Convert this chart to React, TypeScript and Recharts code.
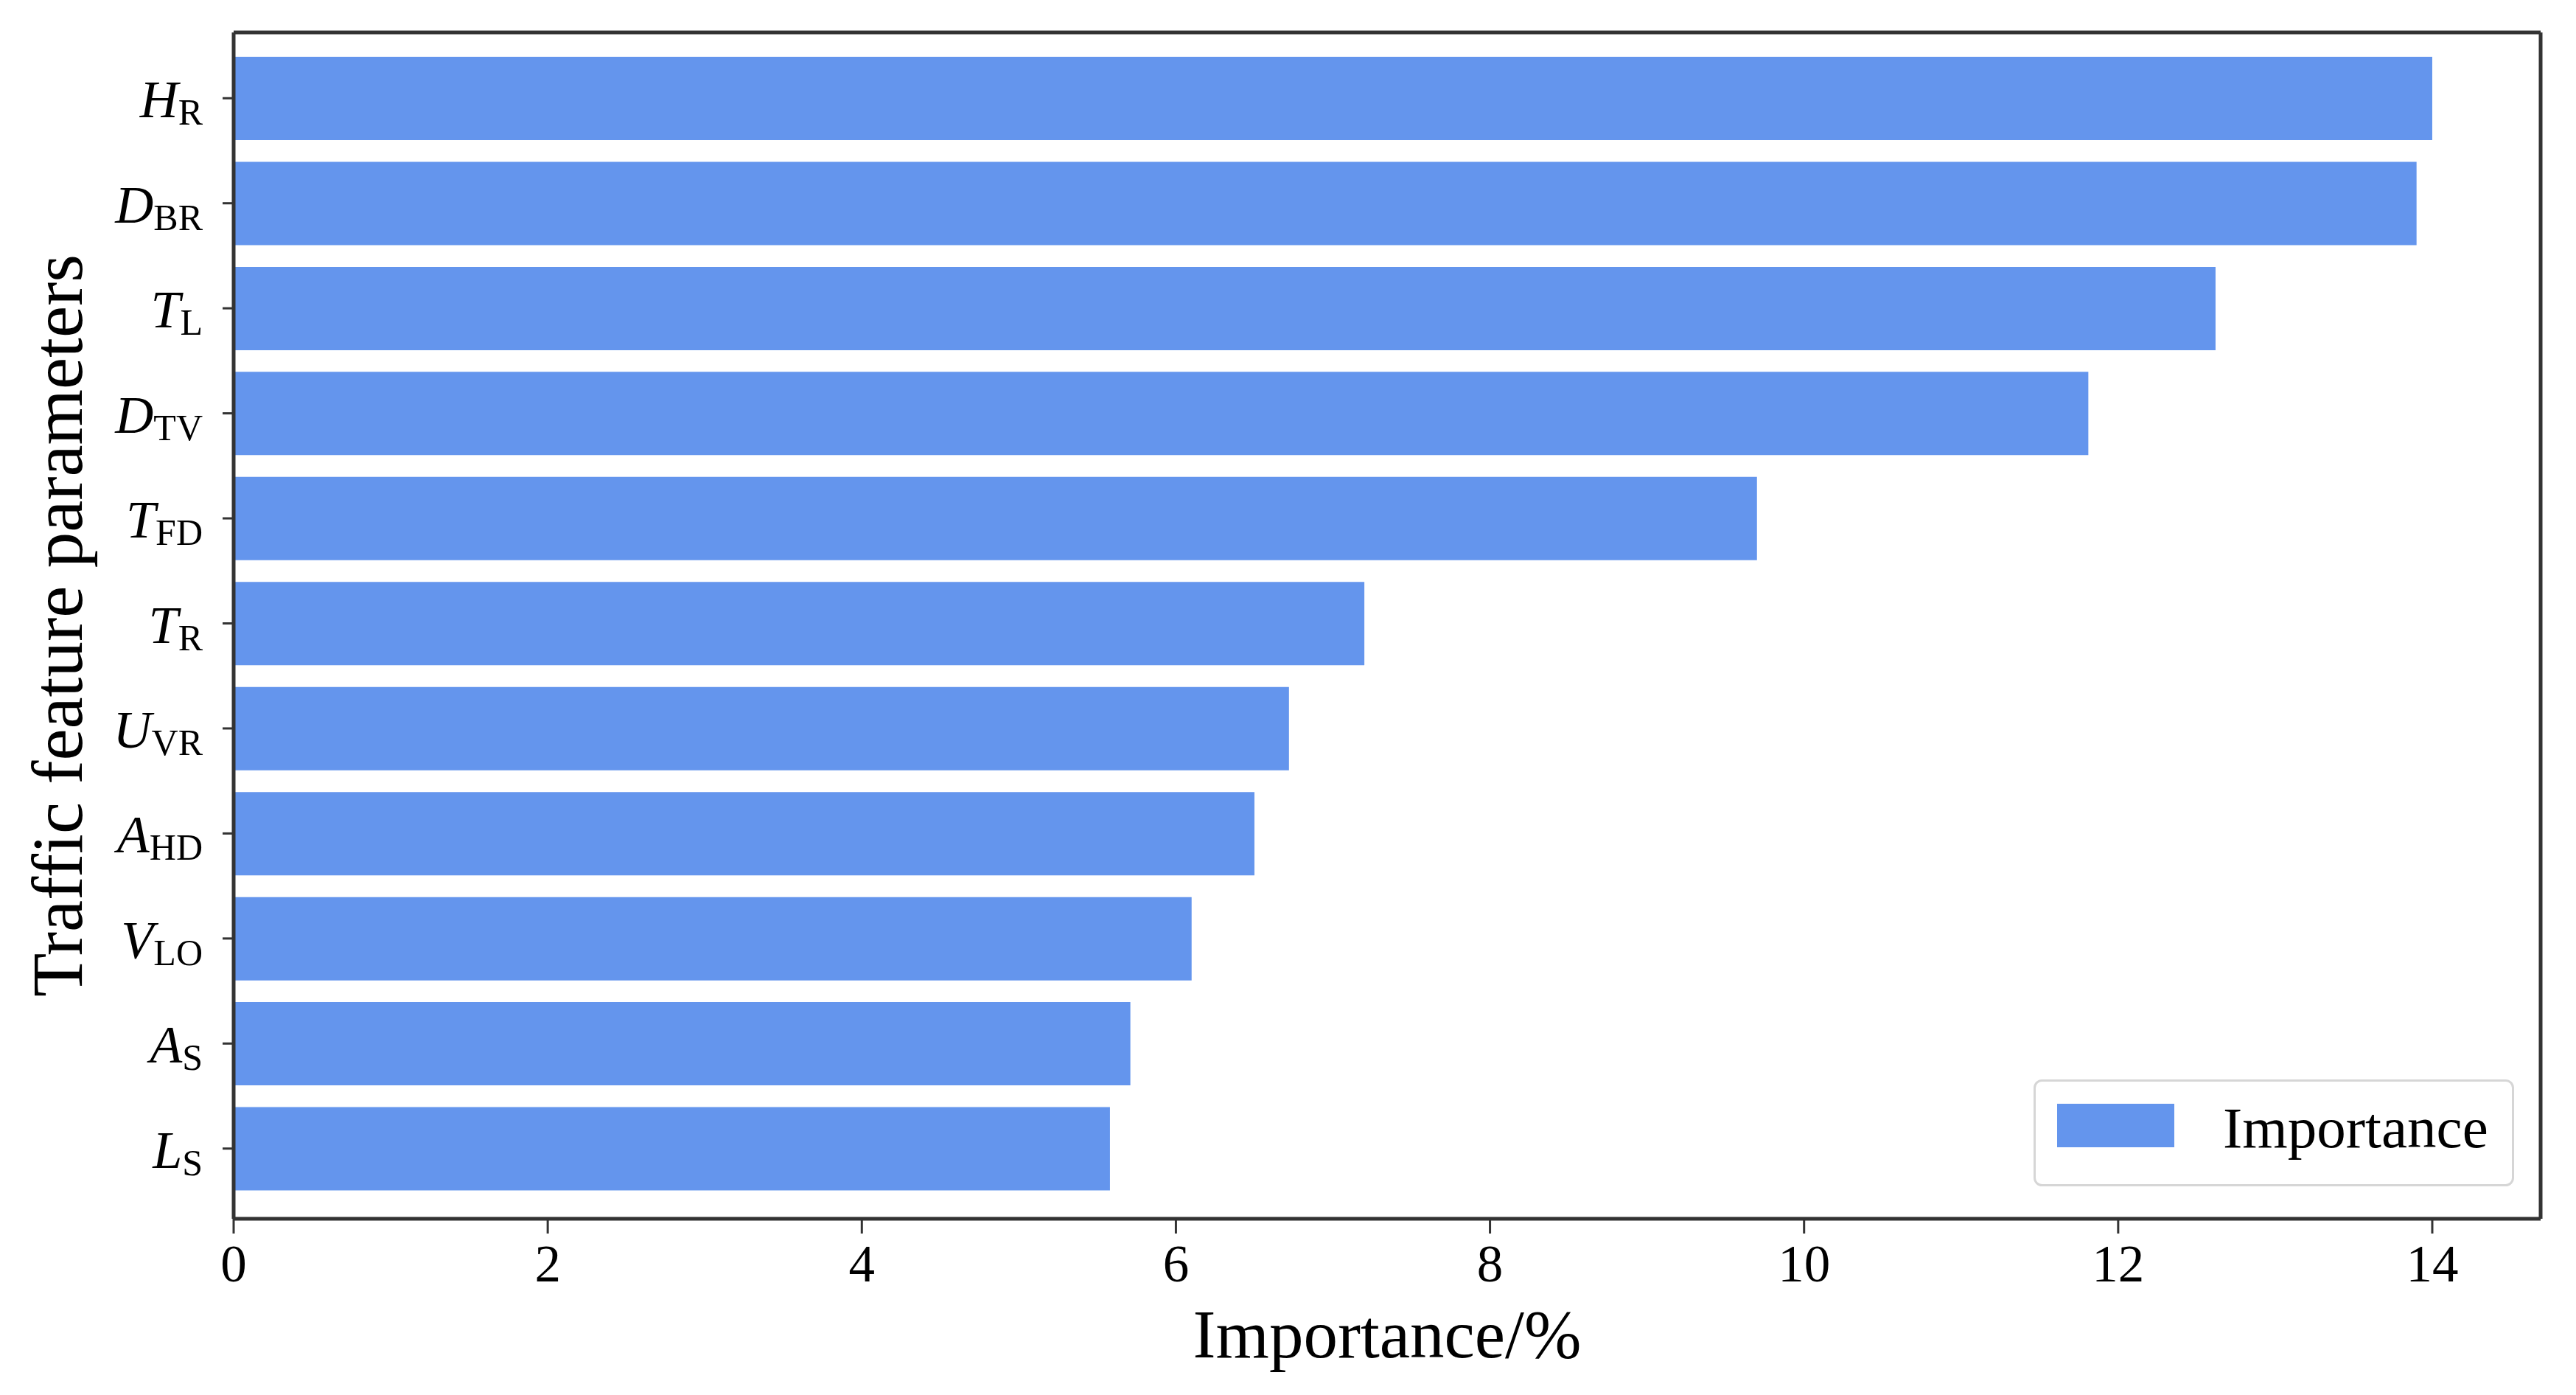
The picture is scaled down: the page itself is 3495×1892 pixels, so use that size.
import { BarChart, Bar, XAxis, YAxis, Legend } from 'recharts';

const featureSymbols = ['H', 'D', 'T', 'D', 'T', 'T', 'U', 'A', 'V', 'A', 'L'];
const featureSubscripts = ['R', 'BR', 'L', 'TV', 'FD', 'R', 'VR', 'HD', 'LO', 'S', 'S'];
const importanceValues = [14.0, 13.9, 12.62, 11.81, 9.7, 7.2, 6.72, 6.5, 6.1, 5.71, 5.58];
const xTicks = [0, 2, 4, 6, 8, 10, 12, 14];
const xMax = 14.69;

const data = featureSymbols.map((sym, i) => ({
  key: `${sym}_${featureSubscripts[i]}`,
  importance: importanceValues[i],
}));

const FONT = '"Liberation Serif", "Times New Roman", serif';
const BAR_COLOR = '#6495ED';
const SPINE = '#333333';

function FeatureTick({ x, y, payload }: any) {
  const [sym, sub] = String(payload.value).split('_');
  return (
    <text x={x} y={y + 26} textAnchor="end" fontFamily={FONT} fill="#000">
      <tspan fontStyle="italic" fontSize={72}>{sym}</tspan>
      <tspan fontSize={50} dy={10}>{sub}</tspan>
    </text>
  );
}

function ValueTick({ x, y, payload }: any) {
  return (
    <text x={x} y={y + 65} textAnchor="middle" fontFamily={FONT} fontSize={71} fill="#000">
      {payload.value}
    </text>
  );
}

function YTitle({ viewBox }: any) {
  const bx = viewBox.x + 94;
  const cy = viewBox.y + viewBox.height / 2;
  return (
    <text x={bx} y={cy} transform={`rotate(-90 ${bx} ${cy})`} textAnchor="middle"
      fontFamily={FONT} fontSize={97} fill="#000">
      Traffic feature parameters
    </text>
  );
}

function LegendBox({ payload }: any) {
  const item = payload && payload.find((p: any) => p.value === 'Importance');
  return (
    <svg width={652} height={145} style={{ display: 'block' }}>
      <rect x={1.5} y={1.5} width={649} height={142} rx={10} fill="rgba(255,255,255,0.8)"
        stroke="#d6d6d6" strokeWidth={3} />
      <rect x={32} y={33} width={159} height={59} fill={item ? item.color : BAR_COLOR} />
      <text x={257} y={92} fontFamily={FONT} fontSize={79} fill="#000">
        {item ? item.value : 'Importance'}
      </text>
    </svg>
  );
}

export default function App() {
  return (
    <div style={{ background: '#fff' }}>
      <style>{'body{margin:0;background:#fff}'}</style>
      <BarChart
        width={3495}
        height={1892}
        data={data}
        layout="vertical"
        margin={{ top: 43, right: 47, bottom: 39, left: 17 }}
      >
        <XAxis
          type="number"
          domain={[0, xMax]}
          ticks={xTicks}
          allowDataOverflow
          height={200}
          tickSize={20}
          tickMargin={0}
          tick={<ValueTick />}
          axisLine={{ stroke: SPINE, strokeWidth: 5 }}
          tickLine={{ stroke: SPINE, strokeWidth: 3 }}
          label={{ value: 'Importance/%', position: 'insideBottom', offset: 12, fontSize: 93, fontFamily: FONT, fill: '#000' }}
        />
        <XAxis
          xAxisId="top"
          orientation="top"
          type="number"
          domain={[0, xMax]}
          allowDataOverflow
          height={1}
          tick={false}
          tickLine={false}
          axisLine={{ stroke: SPINE, strokeWidth: 5 }}
        />
        <YAxis
          type="category"
          dataKey="key"
          width={300}
          padding={{ top: 18, bottom: 24 }}
          tickSize={15}
          tickMargin={27}
          tick={<FeatureTick />}
          axisLine={{ stroke: SPINE, strokeWidth: 5 }}
          tickLine={{ stroke: SPINE, strokeWidth: 3 }}
          label={<YTitle />}
        />
        <YAxis
          yAxisId="right"
          orientation="right"
          type="category"
          dataKey="key"
          width={1}
          tick={false}
          tickLine={false}
          axisLine={{ stroke: SPINE, strokeWidth: 5 }}
        />
        <Bar dataKey="importance" name="Importance" fill={BAR_COLOR} barSize={113} isAnimationActive={false} />
        <Bar
          xAxisId="top"
          yAxisId="right"
          dataKey="importance"
          name="frame"
          fill="none"
          legendType="none"
          isAnimationActive={false}
        />
        <Legend
          layout="vertical"
          align="center"
          verticalAlign="middle"
          wrapperStyle={{ left: 2759, top: 1464, width: 652, height: 145 }}
          content={<LegendBox />}
        />
      </BarChart>
    </div>
  );
}
